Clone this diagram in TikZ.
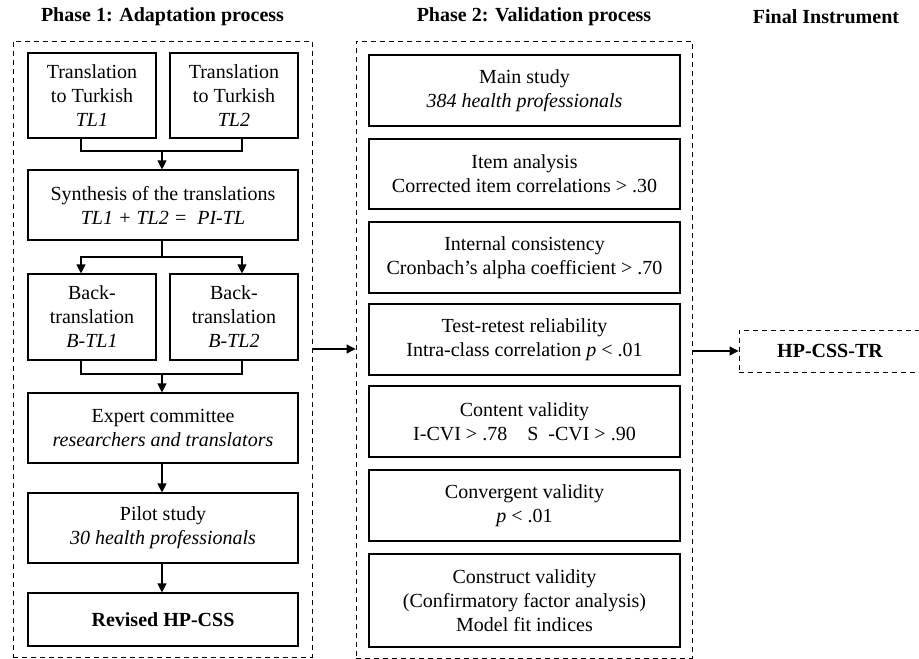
\documentclass[tikz,border=0pt]{standalone}
\usepackage{fontspec}
\setmainfont{Liberation Serif}
\usetikzlibrary{arrows.meta}
\begin{document}
\begin{tikzpicture}[x=1pt,y=-1pt,
  box/.style={draw, line width=1.1pt, inner sep=0pt, align=center, font=\fontsize{20}{24}\selectfont},
  frame/.style={draw, line width=0.9pt, dash pattern=on 5pt off 4pt, inner sep=0pt},
  ttl/.style={font=\fontsize{20}{24}\selectfont\bfseries},
  arr/.style={line width=1.1pt, -{Triangle[length=9pt,width=9pt]}},
  ln/.style={line width=1.1pt}]
\useasboundingbox (0,0) rectangle (919,659);
% titles
\node[ttl] (t1) at (162.5,17) {Phase 1: Adaptation process};
\node[ttl] (t2) at (534,17) {Phase 2: Validation process};
\node[ttl] (t3) at (826,17) {Final Instrument};
% frames
\node[frame, minimum width=299pt, minimum height=616pt] (f1) at (162.5,349) {};
\node[frame, minimum width=336pt, minimum height=617pt] (f2) at (524,349.5) {};
% phase 1
\node[box, minimum width=128pt, minimum height=85pt] (tl1) at (92,95.5) {Translation\\to Turkish\\\textit{TL1}};
\node[box, minimum width=128pt, minimum height=85pt] (tl2) at (234,95.5) {Translation\\to Turkish\\\textit{TL2}};
\node[box, minimum width=270pt, minimum height=70pt] (syn) at (163,205) {Synthesis of the translations\\\textit{TL1 + TL2 =\ \ PI-TL}};
\node[box, minimum width=128pt, minimum height=86pt] (bt1) at (92,317) {Back-\\translation\\\textit{B-TL1}};
\node[box, minimum width=128pt, minimum height=86pt] (bt2) at (234,317) {Back-\\translation\\\textit{B-TL2}};
\node[box, minimum width=270pt, minimum height=70pt] (exp) at (163,428) {Expert committee\\\textit{researchers and translators}};
\node[box, minimum width=270pt, minimum height=70pt] (pil) at (163,528) {Pilot study\\\textit{30 health professionals}};
\node[box, minimum width=270pt, minimum height=53pt, font=\fontsize{20}{24}\selectfont\bfseries] (rev) at (163,619.5) {Revised HP-CSS};
% phase 1 connectors
\coordinate (j1) at (162,151);
\coordinate (j2) at (162,257);
\coordinate (j3) at (162,374);
\draw[ln] ([xshift=-11pt]tl1.south) |- (j1) -| ([xshift=8pt]tl2.south);
\draw[arr] (j1) -- (j1 |- syn.north);
\draw[ln] (j2 |- syn.south) -- (j2);
\draw[arr] (j2) -| ([xshift=-11pt]bt1.north);
\draw[arr] (j2) -| ([xshift=8pt]bt2.north);
\draw[ln] ([xshift=-11pt]bt1.south) |- (j3) -| ([xshift=8pt]bt2.south);
\draw[arr] (j3) -- (j3 |- exp.north);
\draw[arr] (j3 |- exp.south) -- (j3 |- pil.north);
\draw[arr] (j3 |- pil.south) -- (j3 |- rev.north);
% phase 2
\node[box, minimum width=311pt, minimum height=71pt] (ms) at (524.5,90.5) {Main study\\\textit{384 health professionals}};
\node[box, minimum width=311pt, minimum height=70pt] (ia) at (524.5,174) {Item analysis\\Corrected item correlations > .30};
\node[box, minimum width=311pt, minimum height=71pt] (ic) at (524.5,257.5) {Internal consistency\\Cronbach’s alpha coefficient > .70};
\node[box, minimum width=311pt, minimum height=71pt] (tr) at (524.5,339.5) {Test-retest reliability\\Intra-class correlation \textit{p} < .01};
\node[box, minimum width=311pt, minimum height=71pt] (cv) at (524.5,421.5) {Content validity\\I-CVI > .78\ \ \ \ S\ \ -CVI > .90};
\node[box, minimum width=311pt, minimum height=71pt] (gv) at (524.5,505.5) {Convergent validity\\\textit{p} < .01};
\node[box, minimum width=311pt, minimum height=93pt] (sv) at (524.5,600.5) {Construct validity\\(Confirmatory factor analysis)\\Model fit indices};
% final
\node[frame, minimum width=182pt, minimum height=42pt, font=\fontsize{20}{24}\selectfont\bfseries] (fin) at (830,351) {HP-CSS-TR};
% between phases
\draw[arr] (f1.east) -- (f2.west |- f1.east);
\draw[arr] (f2.east |- fin.west) -- (fin.west);
\end{tikzpicture}
\end{document}
